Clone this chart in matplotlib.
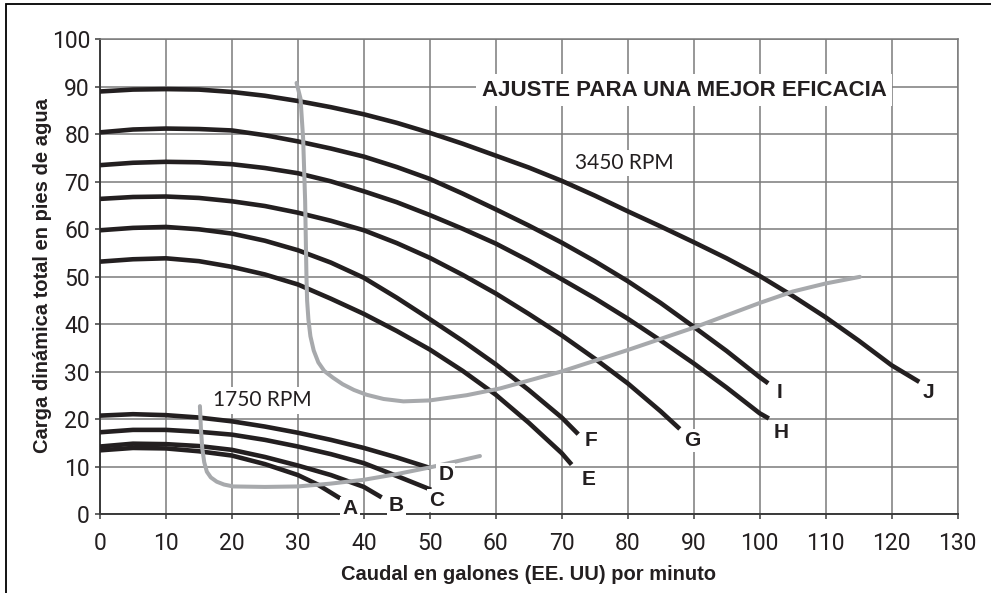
import numpy as np
import matplotlib
matplotlib.use("Agg")
import matplotlib.pyplot as plt
from matplotlib.patches import Rectangle

# Curvas de la bomba a 3450 RPM (caudal en gpm, carga en pies)
flow_j = [0, 5, 10, 15, 20, 25, 30, 35, 40, 45, 50, 55, 60, 65, 70, 75, 80, 85,
          90, 95, 100, 105, 110, 115, 120, 124.2]
head_j = [89.0, 89.4, 89.5, 89.4, 88.9, 88.1, 87.0, 85.7, 84.2, 82.4, 80.3, 78.0,
          75.5, 73.0, 70.2, 67.1, 63.8, 60.6, 57.3, 53.9, 50.2, 46.0, 41.5, 36.6,
          31.4, 27.9]

flow_i = [0, 5, 10, 15, 20, 25, 30, 35, 40, 45, 50, 55, 60, 65, 70, 75, 80, 85,
          90, 95, 100, 101.3]
head_i = [80.4, 81.0, 81.2, 81.1, 80.8, 79.8, 78.5, 77.0, 75.3, 73.1, 70.6, 67.5,
          64.2, 60.8, 57.2, 53.3, 49.1, 44.5, 39.5, 34.4, 28.9, 27.6]

flow_h = [0, 5, 10, 15, 20, 25, 30, 35, 40, 45, 50, 55, 60, 65, 70, 75, 80, 85,
          90, 95, 100, 101.4]
head_h = [73.5, 74.0, 74.2, 74.1, 73.7, 72.9, 71.8, 70.1, 68.0, 65.7, 63.0, 60.1,
          57.0, 53.4, 49.5, 45.5, 41.2, 36.6, 31.8, 26.7, 21.3, 20.2]

flow_g = [0, 5, 10, 15, 20, 25, 30, 35, 40, 45, 50, 55, 60, 65, 70, 75, 80, 85, 87.9]
head_g = [66.4, 66.8, 66.9, 66.6, 65.9, 64.9, 63.5, 61.8, 59.8, 57.1, 54.0, 50.4,
          46.5, 42.2, 37.7, 32.8, 27.6, 21.7, 18.0]

flow_f = [0, 5, 10, 15, 20, 25, 30, 35, 40, 45, 50, 55, 60, 65, 70, 72.5]
head_f = [59.8, 60.3, 60.5, 60.0, 59.1, 57.6, 55.6, 53.0, 49.8, 45.6, 41.1, 36.5,
          31.6, 26.2, 20.4, 16.9]

flow_e = [0, 5, 10, 15, 20, 25, 30, 35, 40, 45, 50, 55, 60, 65, 70, 71.5]
head_e = [53.2, 53.7, 53.9, 53.3, 52.1, 50.5, 48.4, 45.4, 42.2, 38.6, 34.7, 30.2,
          25.2, 19.3, 12.9, 10.5]

# Curvas de la bomba a 1750 RPM
flow_d = [0, 5, 10, 15, 20, 25, 30, 35, 40, 45, 50]
head_d = [20.8, 21.1, 20.9, 20.4, 19.6, 18.5, 17.2, 15.7, 14.0, 12.0, 9.8]

flow_c = [0, 5, 10, 15, 20, 25, 30, 35, 40, 45, 50.2]
head_c = [17.3, 17.8, 17.8, 17.4, 16.8, 15.7, 14.3, 12.7, 10.8, 8.1, 5.2]

flow_b = [0, 5, 10, 15, 20, 25, 30, 35, 40, 42.7]
head_b = [14.3, 14.9, 14.8, 14.4, 13.6, 12.1, 10.3, 8.3, 5.8, 3.6]

flow_a = [0, 5, 10, 15, 20, 25, 30, 33, 36.4]
head_a = [13.5, 14.0, 13.9, 13.3, 12.4, 10.6, 8.3, 6.3, 3.4]

# Lineas de mejor eficacia (grises)
eff_hi_flow = [29.8, 30.4, 30.8, 31.1, 31.3, 31.4, 31.6, 31.9, 32.4, 33.1, 34.0,
               35.3, 36.8, 38.5, 40.4, 43, 46, 50, 55.6, 60.6, 70, 80, 90, 100,
               105, 110, 115.2]
eff_hi_head = [90.8, 87.5, 79.0, 66.0, 50.0, 45.0, 41.0, 37.5, 34.5, 32.0, 30.2,
               28.8, 27.4, 26.2, 25.2, 24.3, 23.8, 24.0, 25.1, 26.5, 30.1, 34.6,
               39.3, 44.5, 46.9, 48.6, 50.0]

eff_lo_flow = [15.15, 15.3, 15.5, 15.8, 16.2, 16.8, 17.7, 18.8, 20.2, 25, 30,
               35, 40, 45, 50, 57.6]
eff_lo_head = [22.8, 18.0, 14.0, 11.0, 9.0, 7.8, 6.9, 6.3, 5.9, 5.8, 5.9,
               6.5, 7.3, 8.5, 9.9, 12.3]

curve_names = ["A", "B", "C", "D", "E", "F", "G", "H", "I", "J"]
label_pos = [(37.9, 1.2), (44.9, 1.9), (51.0, 3.0), (52.4, 8.4), (74.0, 7.4),
             (74.4, 15.6), (89.8, 15.6), (103.3, 17.3), (103.0, 25.7), (125.6, 25.7)]

fig = plt.figure(figsize=(9.91, 5.93), dpi=100)
ax = fig.add_axes([0.1009, 0.1324, 0.8653, 0.8015])

black = "#231f20"
gray = "#a7a9ac"

curves = [(flow_a, head_a), (flow_b, head_b), (flow_c, head_c), (flow_d, head_d),
          (flow_e, head_e), (flow_f, head_f), (flow_g, head_g), (flow_h, head_h),
          (flow_i, head_i), (flow_j, head_j)]
for fx, fy in curves:
    ax.plot(fx, fy, color=black, lw=3.3, solid_capstyle="butt",
            solid_joinstyle="round", zorder=3)

ax.plot(eff_hi_flow, eff_hi_head, color=gray, lw=2.9, solid_capstyle="round",
        solid_joinstyle="round", zorder=4)
ax.plot(eff_lo_flow, eff_lo_head, color=gray, lw=2.9, solid_capstyle="round",
        solid_joinstyle="round", zorder=4)

for name, (lx, ly) in zip(curve_names, label_pos):
    ax.text(lx, ly, name, fontsize=15, fontweight="bold", family="Liberation Sans",
            color=black, ha="center", va="center", zorder=5,
            bbox=dict(boxstyle="square,pad=0.1", fc="white", ec="none"))

ax.text(88.6, 89.3, "AJUSTE PARA UNA MEJOR EFICACIA", fontsize=16, fontweight="bold",
        family="Liberation Sans", color=black, ha="center", va="center", zorder=5,
        bbox=dict(boxstyle="square,pad=0.25", fc="white", ec="none"))
ax.text(79.5, 74.0, "3450 RPM", fontsize=15, family="Lato", color=black,
        ha="center", va="center", zorder=5,
        bbox=dict(boxstyle="square,pad=0.15", fc="white", ec="none"))
ax.text(24.6, 24.0, "1750 RPM", fontsize=15, family="Lato", color=black,
        ha="center", va="center", zorder=5,
        bbox=dict(boxstyle="square,pad=0.15", fc="white", ec="none"))

ax.set_xlim(0, 130)
ax.set_ylim(0, 100)
ax.set_xticks(np.arange(0, 131, 10))
ax.set_yticks(np.arange(0, 101, 10))
ax.grid(True, color="#7a7a7a", lw=1.1, zorder=1)
ax.set_axisbelow(True)
for side in ["top", "right"]:
    ax.spines[side].set_color("#7a7a7a")
    ax.spines[side].set_linewidth(1.1)
for side in ["left", "bottom"]:
    ax.spines[side].set_color("#3a3a3a")
    ax.spines[side].set_linewidth(1.4)
ax.tick_params(length=3.6, width=1.1, color="#3a3a3a", labelsize=16.5,
               labelcolor="#231f20")
ax.tick_params(axis="x", pad=9)
ax.tick_params(axis="y", pad=3.6)
for lab in ax.get_xticklabels() + ax.get_yticklabels():
    lab.set_family("Roboto")
    lab.set_fontweight("normal")

ax.set_xlabel("Caudal en galones (EE. UU) por minuto", fontsize=14.5,
              fontweight="bold", family="Liberation Sans", color=black, va="center")
ax.set_ylabel("Carga dinámica total en pies de agua", fontsize=14.5,
              fontweight="bold", family="Liberation Sans", color=black, va="center")
ax.xaxis.set_label_coords(0.5, -0.127)
ax.yaxis.set_label_coords(-0.067, 0.502)

# marco exterior de la figura
fig.patches.append(Rectangle((6 / 991, -0.05), 1.1, 1.05 - 4 / 593,
                             transform=fig.transFigure, fill=False,
                             ec="black", lw=1.3))

fig.savefig("out.png", dpi=100)
